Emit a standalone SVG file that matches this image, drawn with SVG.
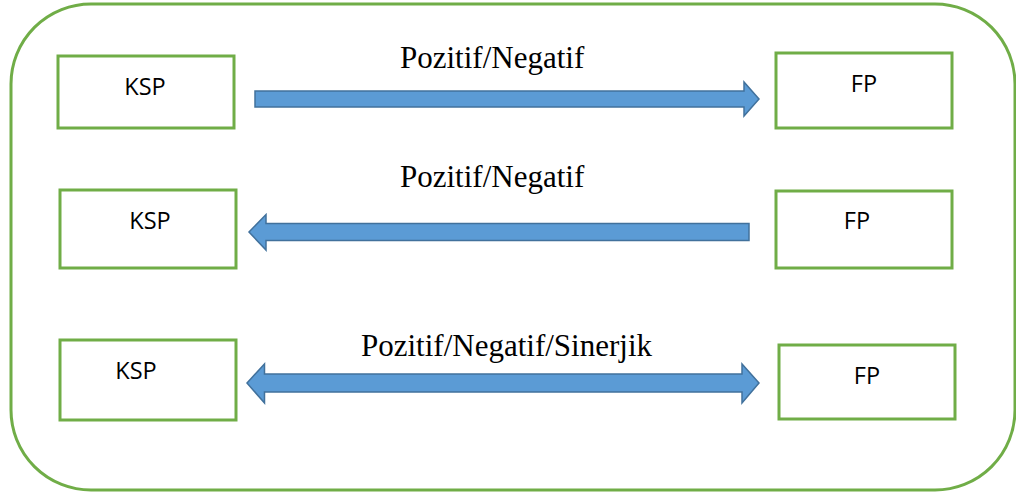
<svg xmlns="http://www.w3.org/2000/svg" width="1016" height="492" viewBox="0 0 1016 492">
<style>
.frame{fill:#fff;stroke:#70AD47;stroke-width:3}
.box{fill:#fff;stroke:#70AD47;stroke-width:3}
.arrow{fill:#5B9BD5;stroke:#41719C;stroke-width:1.5;stroke-linejoin:miter}
.lbl{font-family:"Open Sans","Liberation Sans",sans-serif;font-size:23.5px;fill:#000;text-anchor:middle}
.rel{font-family:"Liberation Serif","Times New Roman",serif;font-size:31px;fill:#000}
</style>
<rect width="1016" height="492" fill="#fff"/>
<rect class="frame" x="11" y="4" width="1004" height="486" rx="80" ry="80"/>
<g id="ksp1"><rect class="box" x="58" y="56" width="176" height="72"/><text class="lbl" x="145" y="95">KSP</text></g>
<g id="fp1"><rect class="box" x="776" y="53" width="176" height="75"/><text class="lbl" x="864" y="92">FP</text></g>
<g id="ksp2"><rect class="box" x="60" y="190" width="176" height="78"/><text class="lbl" x="150" y="229">KSP</text></g>
<g id="fp2"><rect class="box" x="776" y="191" width="176" height="77"/><text class="lbl" x="857" y="229">FP</text></g>
<g id="ksp3"><rect class="box" x="60" y="340" width="176" height="80"/><text class="lbl" x="136" y="379">KSP</text></g>
<g id="fp3"><rect class="box" x="779" y="345" width="176" height="74"/><text class="lbl" x="867" y="384">FP</text></g>
<g id="connectors">
<polygon class="arrow" points="255,91 744,91 744,82 759,99 744,116 744,107 255,107"/>
<polygon class="arrow" points="749,223.5 266,223.5 266,214.5 249,232 266,250 266,240.5 749,240.5"/>
<polygon class="arrow" points="247,383 264.5,364 264.5,374 742,374 742,364 759,383 742,403 742,392 264.5,392 264.5,403"/>
<text class="rel" x="400" y="68">Pozitif/Negatif</text>
<text class="rel" x="400" y="187">Pozitif/Negatif</text>
<text class="rel" x="361" y="356">Pozitif/Negatif/Sinerjik</text>
</g>
</svg>
